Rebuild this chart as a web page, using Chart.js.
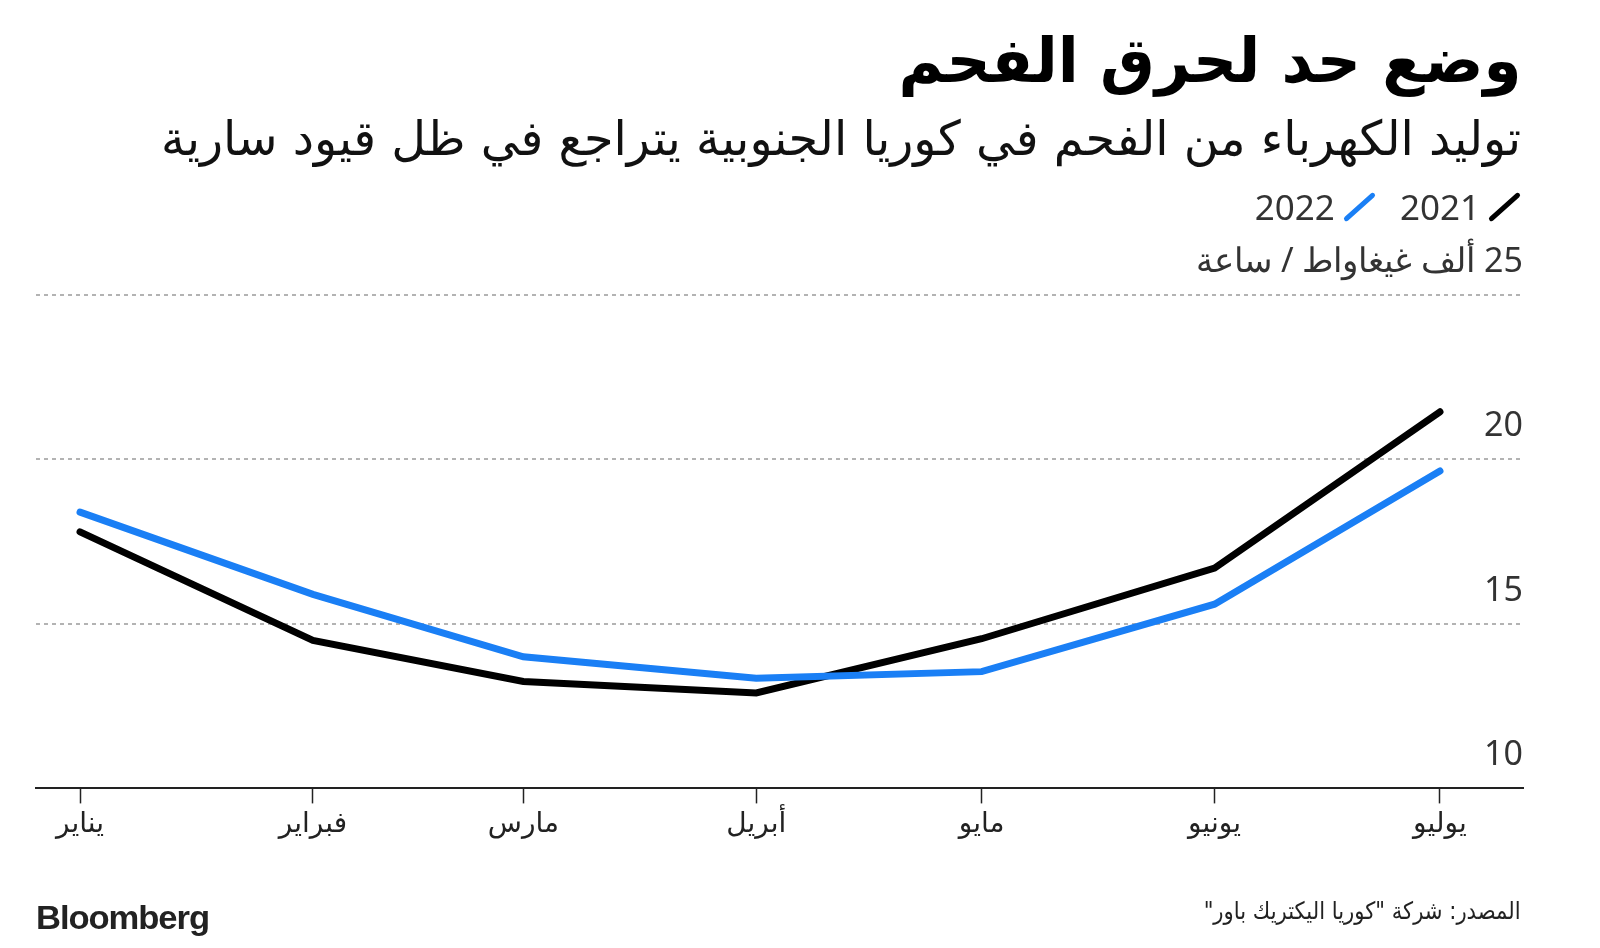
<!DOCTYPE html>
<html>
<head>
<meta charset="utf-8">
<script src="https://cdn.jsdelivr.net/npm/chart.js@4.4.1/dist/chart.umd.min.js"></script>
<style>
  body { margin: 0; background: #fff; }
  #wrap { position: relative; width: 1600px; height: 948px; overflow: hidden; background: #fff; }
  #chartCanvas { position: absolute; left: 0; top: 0; }
  .txt { position: absolute; white-space: nowrap; direction: rtl; line-height: 1; }
  #title { right: 79px; top: 24px; font: bold 62px "DejaVu Sans"; color: #000; transform-origin: right center; }
  #subtitle { right: 79px; top: 110px; font: 48px "DejaVu Sans"; color: #111; transform-origin: right center; }
  #legend { position: absolute; right: 79px; top: 183px; display: flex; flex-direction: row-reverse; align-items: center; font: 35px "Noto Sans"; color: #333; }
  .item { display: flex; flex-direction: row-reverse; align-items: center; margin-left: 24px; }
  .slash { width: 5px; height: 40px; border-radius: 3px; transform: rotate(48deg); margin: 0 14px 0 22px; }
  #source { right: 79px; top: 897px; font: 24px "DejaVu Sans"; color: #222; transform-origin: right center; }
  #brand { left: 36px; top: 899px; font: bold 33px "Liberation Sans"; color: #222; direction: ltr; transform-origin: left center; letter-spacing: -1px; }
</style>
</head>
<body>
<div id="wrap">
  <canvas id="chartCanvas" width="1600" height="948" dir="rtl"></canvas>
  <div class="txt" id="title">وضع حد لحرق الفحم</div>
  <div class="txt" id="subtitle">توليد الكهرباء من الفحم في كوريا الجنوبية يتراجع في ظل قيود سارية</div>
  <div id="legend"></div>
  <div class="txt" id="source">المصدر: شركة "كوريا اليكتريك باور"</div>
  <div class="txt" id="brand">Bloomberg</div>
</div>
<script>
// أشهر السنة ومواضعها (اليوم من السنة)
const months = ["يناير", "فبراير", "مارس", "أبريل", "مايو", "يونيو", "يوليو"];
const monthDays = [1, 32, 60, 91, 121, 152, 182];

// ألف غيغاواط / ساعة
const values2021 = [17.8, 14.5, 13.25, 12.9, 14.55, 16.7, 21.45];
const values2022 = [18.4, 15.9, 14.0, 13.35, 13.55, 15.6, 19.65];

const seriesNames = ["2021", "2022"];
const seriesColors = ["#000000", "#1a7ff5"];

const yTicks = [10, 15, 20, 25];
const unitLabel = "25 ألف غيغاواط / ساعة";

// legend
const legend = document.getElementById("legend");
seriesNames.forEach((name, i) => {
    const item = document.createElement("div");
    item.className = "item";
    const mark = document.createElement("div");
    mark.className = "slash";
    mark.style.background = seriesColors[i];
    const label = document.createElement("span");
    label.textContent = name;
    item.appendChild(mark);
    item.appendChild(label);
    legend.appendChild(item);
});

// stretch text to the widths in the picture
function fitWidth(id, target) {
    const el = document.getElementById(id);
    const w = el.getBoundingClientRect().width;
    el.style.transform = "scaleX(" + (target / w) + ")";
}
fitWidth("title", 623);
fitWidth("subtitle", 1360);
fitWidth("source", 317);
fitWidth("brand", 173);

const toPoints = vals => vals.map((v, i) => ({ x: monthDays[i], y: v }));

const ctx = document.getElementById("chartCanvas").getContext("2d");
new Chart(ctx, {
    type: "line",
    data: {
        datasets: [
            {
                label: seriesNames[0],
                data: toPoints(values2021),
                borderColor: seriesColors[0],
                borderWidth: 7,
                borderCapStyle: "round",
                pointRadius: 0,
                tension: 0,
                order: 1
            },
            {
                label: seriesNames[1],
                data: toPoints(values2022),
                borderColor: seriesColors[1],
                borderWidth: 7,
                borderCapStyle: "round",
                pointRadius: 0,
                tension: 0,
                order: 0
            }
        ]
    },
    options: {
        responsive: false,
        animation: false,
        layout: { padding: { top: 295, left: 36, right: 77, bottom: 101 } },
        plugins: {
            legend: { display: false },
            tooltip: { enabled: false }
        },
        scales: {
            x: {
                type: "linear",
                min: -4.86,
                max: 193.05,
                afterBuildTicks: axis => {
                    axis.ticks = monthDays.map(d => ({ value: d }));
                },
                grid: {
                    drawOnChartArea: false,
                    drawTicks: true,
                    tickLength: 15,
                    tickColor: "#222",
                    tickWidth: 1.5
                },
                border: { display: true, color: "#222", width: 2 },
                ticks: {
                    autoSkip: false,
                    maxRotation: 0,
                    padding: 5,
                    color: "#222",
                    font: { family: "DejaVu Sans", size: 28 },
                    callback: value => months[monthDays.indexOf(value)]
                }
            },
            y: {
                position: "right",
                min: 10,
                max: 25,
                afterBuildTicks: axis => {
                    axis.ticks = yTicks.map(v => ({ value: v }));
                },
                grid: {
                    color: "#b3b3b3",
                    lineWidth: 2,
                    drawTicks: false
                },
                border: { display: false, dash: [4, 4] },
                ticks: {
                    mirror: true,
                    padding: 0,
                    labelOffset: -33,
                    color: "#333",
                    font: { family: "Noto Sans", size: 34 },
                    callback: value => value === 25 ? unitLabel : String(value)
                }
            }
        }
    }
});
</script>
</body>
</html>
